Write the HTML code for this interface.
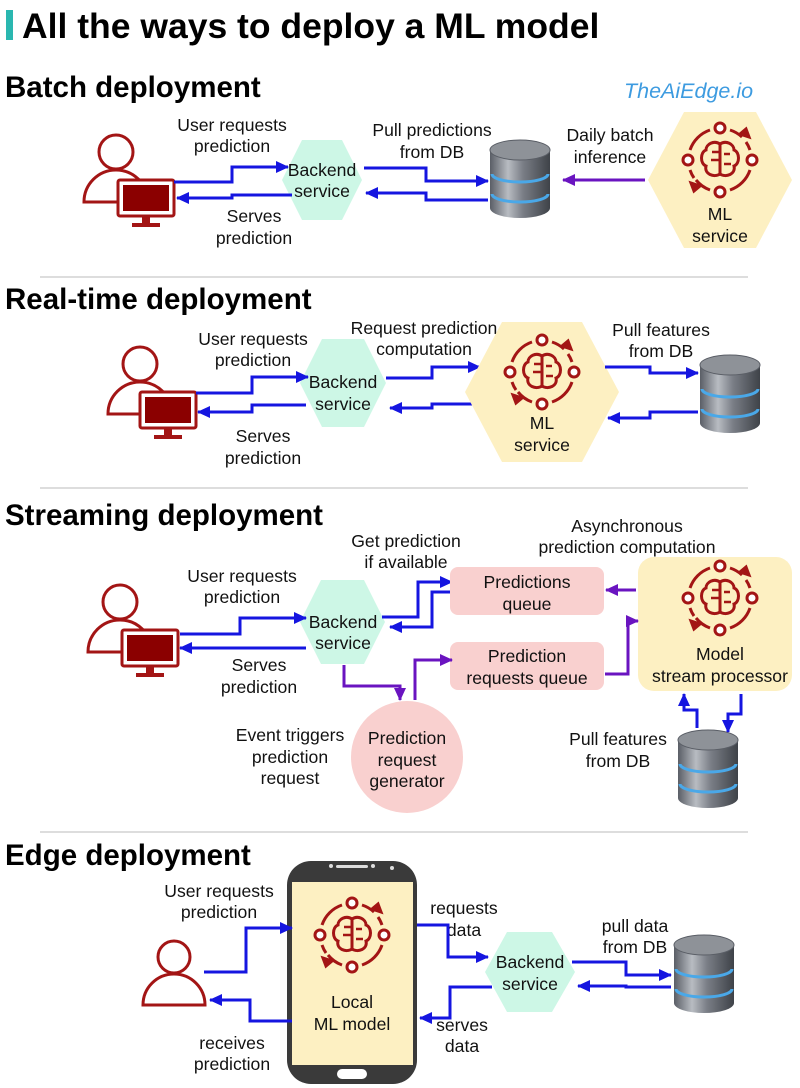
<!DOCTYPE html>
<html><head><meta charset="utf-8"><style>
html,body{margin:0;padding:0;background:#fff;}
svg{display:block;font-family:"Liberation Sans",Arial,sans-serif;}
.t{font-size:17.6px;fill:#111;text-anchor:middle;}
.h{font-size:29.5px;font-weight:bold;fill:#000;}
.b{stroke:#1515e0;stroke-width:3;fill:none;marker-end:url(#ab);}
.p{stroke:#6a14c0;stroke-width:3;fill:none;marker-end:url(#ap);}
</style></head><body>
<svg width="800" height="1088" viewBox="0 0 800 1088">
<defs>
<marker id="ab" markerUnits="userSpaceOnUse" markerWidth="14" markerHeight="12" refX="12" refY="6" orient="auto"><path d="M0,0 L13,6 L0,12 Z" fill="#1515e0"/></marker>
<marker id="ap" markerUnits="userSpaceOnUse" markerWidth="14" markerHeight="12" refX="12" refY="6" orient="auto"><path d="M0,0 L13,6 L0,12 Z" fill="#6a14c0"/></marker>
<linearGradient id="dbg" x1="0" x2="1" y1="0" y2="0"><stop offset="0" stop-color="#5a5e66"/><stop offset="0.3" stop-color="#b8bcc2"/><stop offset="0.55" stop-color="#7a7e86"/><stop offset="1" stop-color="#3e4248"/></linearGradient>
<g id="db">
<path d="M0,10 L0,68 A30,10 0 0 0 60,68 L60,10 Z" fill="url(#dbg)"/>
<ellipse cx="30" cy="10" rx="30" ry="10" fill="#8e9298" stroke="#5a5e66"/>
<path d="M2,34 A28,8 0 0 0 58,34" stroke="#4aa8e8" stroke-width="3" fill="none"/>
<path d="M2,54 A28,8 0 0 0 58,54" stroke="#4aa8e8" stroke-width="3" fill="none"/>
</g>
<g id="brain" fill="none" stroke="#a31515" stroke-width="3">
<path d="M-10,-30 A32,32 0 0 0 -30,-10"/><path d="M10,-30 A32,32 0 0 1 22,-23"/>
<path d="M30,10 A32,32 0 0 1 10,30"/><path d="M-10,30 A32,32 0 0 1 -24,20"/>
<path d="M-30,10 A32,32 0 0 0 -26,18"/><path d="M30,-10 A32,32 0 0 0 26,-18"/>
<path d="M20,-26 l6,-5 l3,8 z" fill="#a31515"/><path d="M-20,26 l-6,5 l-3,-8 z" fill="#a31515"/>
<circle cx="0" cy="-32" r="5" fill="#fff"/><circle cx="0" cy="32" r="5" fill="#fff"/>
<circle cx="-32" cy="0" r="5" fill="#fff"/><circle cx="32" cy="0" r="5" fill="#fff"/>
<path d="M0,-16 C-6,-20 -14,-16 -14,-10 C-20,-8 -20,4 -14,6 C-16,14 -6,18 0,14 Z"/>
<path d="M0,-16 C6,-20 14,-16 14,-10 C20,-8 20,4 14,6 C16,14 6,18 0,14 Z"/>
<path d="M0,-16 V14 M-8,-8 h8 M0,0 h-9 M4,-6 h6 M4,4 h7" stroke-width="2.5"/>
</g>
<g id="user" fill="none" stroke="#a31515" stroke-width="3">
<circle cx="0" cy="-18" r="17"/>
<path d="M-32,32 A32,32 0 0 1 32,32 Z"/>
</g>
<g id="mon">
<rect x="0" y="0" width="56" height="36" fill="#fff" stroke="#a31515" stroke-width="3" rx="2"/>
<rect x="5" y="5" width="46" height="26" fill="#8b0000"/>
<rect x="24" y="36" width="8" height="7" fill="#a31515"/>
<rect x="14" y="43" width="28" height="4" fill="#a31515"/>
</g>
</defs>

<rect x="6" y="10" width="7" height="30" fill="#2ab7b0"/>
<text x="22" y="38" style="font-size:35.5px;font-weight:bold">All the ways to deploy a ML model</text>
<text x="5" y="97" class="h">Batch deployment</text>
<text x="624" y="98" style="font-size:21.5px;font-style:italic;fill:#3d9be0">TheAiEdge.io</text>
<line x1="40" y1="277" x2="748" y2="277" stroke="#ddd" stroke-width="2"/>
<line x1="40" y1="488" x2="748" y2="488" stroke="#ddd" stroke-width="2"/>
<line x1="40" y1="832" x2="748" y2="832" stroke="#ddd" stroke-width="2"/>

<!-- Batch -->
<g transform="translate(116,170)"><use href="#user"/></g>
<g transform="translate(118,180)"><use href="#mon"/></g>
<polygon points="282,180 302,140 342,140 362,180 342,220 302,220" fill="#cdf7e6"/>
<text class="t" x="322" y="176">Backend</text><text class="t" x="322" y="197">service</text>
<text class="t" x="232" y="131">User requests</text><text class="t" x="232" y="152">prediction</text>
<text class="t" x="254" y="222">Serves</text><text class="t" x="254" y="244">prediction</text>
<path class="b" d="M174,182 H232 V167 H288"/>
<path class="b" d="M292,195 H232 V198 H177"/>
<text class="t" x="432" y="136">Pull predictions</text><text class="t" x="432" y="158">from DB</text>
<path class="b" d="M364,168 H426 V181 H488"/>
<path class="b" d="M488,200 H426 V193 H366"/>
<g transform="translate(490,140)"><use href="#db"/></g>
<text class="t" x="610" y="141">Daily batch</text><text class="t" x="610" y="163">inference</text>
<path class="p" d="M645,180 H563"/>
<polygon points="648,180 684,112 756,112 792,180 756,248 684,248" fill="#fdf0c2"/>
<g transform="translate(720,160)"><use href="#brain"/></g>
<text class="t" x="720" y="220">ML</text><text class="t" x="720" y="242">service</text>

<!-- Real-time -->
<text x="5" y="309" class="h">Real-time deployment</text>
<g transform="translate(140,382)"><use href="#user"/></g>
<g transform="translate(140,392)"><use href="#mon"/></g>
<polygon points="300,383 322,339 364,339 386,383 364,427 322,427" fill="#cdf7e6"/>
<text class="t" x="343" y="388">Backend</text><text class="t" x="343" y="410">service</text>
<text class="t" x="253" y="345">User requests</text><text class="t" x="253" y="366">prediction</text>
<text class="t" x="263" y="442">Serves</text><text class="t" x="263" y="464">prediction</text>
<path class="b" d="M196,393 H252 V377 H308"/>
<path class="b" d="M306,405 H252 V412 H198"/>
<text class="t" x="424" y="334">Request prediction</text><text class="t" x="424" y="355">computation</text>
<path class="b" d="M386,378 H432 V367 H480"/>
<path class="b" d="M472,404 H432 V408 H390"/>
<polygon points="465,392 502,322 582,322 619,392 582,462 502,462" fill="#fdf0c2"/>
<g transform="translate(542,372)"><use href="#brain"/></g>
<text class="t" x="542" y="429">ML</text><text class="t" x="542" y="451">service</text>
<text class="t" x="661" y="336">Pull features</text><text class="t" x="661" y="357">from DB</text>
<path class="b" d="M605,367 H650 V373 H698"/>
<path class="b" d="M698,412 H650 V418 H608"/>
<g transform="translate(700,355)"><use href="#db"/></g>

<!-- Streaming -->
<text x="5" y="525" class="h">Streaming deployment</text>
<g transform="translate(120,620)"><use href="#user"/></g>
<g transform="translate(122,630)"><use href="#mon"/></g>
<polygon points="300,622 321,580 364,580 385,622 364,664 321,664" fill="#cdf7e6"/>
<text class="t" x="343" y="628">Backend</text><text class="t" x="343" y="649">service</text>
<text class="t" x="242" y="582">User requests</text><text class="t" x="242" y="603">prediction</text>
<text class="t" x="259" y="671">Serves</text><text class="t" x="259" y="693">prediction</text>
<path class="b" d="M180,634 H240 V618 H306"/>
<path class="b" d="M306,648 H180"/>
<text class="t" x="406" y="547">Get prediction</text><text class="t" x="406" y="568">if available</text>
<path class="b" d="M382,617 H418 V582 H452"/>
<path class="b" d="M455,592 H432 V627 H390"/>
<rect x="450" y="567" width="154" height="48" rx="8" fill="#f9d0cf"/>
<text class="t" x="527" y="588">Predictions</text><text class="t" x="527" y="610">queue</text>
<rect x="450" y="642" width="154" height="48" rx="8" fill="#f9d0cf"/>
<text class="t" x="527" y="662">Prediction</text><text class="t" x="527" y="684">requests queue</text>
<rect x="638" y="557" width="154" height="134" rx="16" fill="#fdf0c2"/>
<g transform="translate(720,598)"><use href="#brain"/></g>
<text class="t" x="720" y="660">Model</text><text class="t" x="720" y="682">stream processor</text>
<text class="t" x="627" y="532">Asynchronous</text><text class="t" x="627" y="553">prediction computation</text>
<path class="p" d="M636,590 H606"/>
<path class="p" d="M605,674 H628 V621 H638"/>
<path class="p" d="M344,665 V686 H400 V700"/>
<circle cx="407" cy="757" r="56" fill="#f9d0cf"/>
<text class="t" x="407" y="744">Prediction</text><text class="t" x="407" y="766">request</text><text class="t" x="407" y="787">generator</text>
<path class="p" d="M415,700 V660 H452"/>
<text class="t" x="290" y="741">Event triggers</text><text class="t" x="290" y="763">prediction</text><text class="t" x="290" y="784">request</text>
<g transform="translate(678,730)"><use href="#db"/></g>
<path class="b" d="M697,728 V710 H684 V694"/>
<path class="b" d="M741,694 V714 H728 V732"/>
<text class="t" x="618" y="745">Pull features</text><text class="t" x="618" y="767">from DB</text>

<!-- Edge -->
<text x="5" y="865" class="h">Edge deployment</text>
<g fill="none" stroke="#a31515" stroke-width="3">
<circle cx="174" cy="957" r="16"/>
<path d="M143,1005 A31,31 0 0 1 205,1005 Z"/>
</g>
<rect x="287" y="861" width="130" height="223" rx="24" fill="#3a3a3a"/>
<rect x="292" y="882" width="121" height="183" fill="#fdf0c2"/>
<rect x="336" y="865" width="32" height="3" rx="1.5" fill="#ddd"/>
<circle cx="331" cy="866" r="2" fill="#ddd"/><circle cx="373" cy="866" r="2" fill="#ddd"/><circle cx="392" cy="868" r="2" fill="#ddd"/>
<rect x="337" y="1069" width="30" height="10" rx="5" fill="#fff"/>
<g transform="translate(352,935)"><use href="#brain"/></g>
<text class="t" x="352" y="1008">Local</text><text class="t" x="352" y="1030">ML model</text>
<text class="t" x="219" y="897">User requests</text><text class="t" x="219" y="918">prediction</text>
<text class="t" x="232" y="1049">receives</text><text class="t" x="232" y="1070">prediction</text>
<path class="b" d="M204,972 H246 V928 H292"/>
<path class="b" d="M292,1021 H250 V1000 H210"/>
<text class="t" x="464" y="914">requests</text><text class="t" x="464" y="936">data</text>
<text class="t" x="462" y="1031">serves</text><text class="t" x="462" y="1052">data</text>
<path class="b" d="M417,925 H448 V957 H488"/>
<path class="b" d="M492,987 H450 V1018 H420"/>
<polygon points="485,972 507,932 552,932 575,972 552,1012 507,1012" fill="#cdf7e6"/>
<text class="t" x="530" y="968">Backend</text><text class="t" x="530" y="990">service</text>
<text class="t" x="635" y="932">pull data</text><text class="t" x="635" y="953">from DB</text>
<path class="b" d="M572,962 H626 V975 H671"/>
<path class="b" d="M671,987 H626 V986 H578"/>
<g transform="translate(674,935)"><use href="#db"/></g>
</svg>
</body></html>
